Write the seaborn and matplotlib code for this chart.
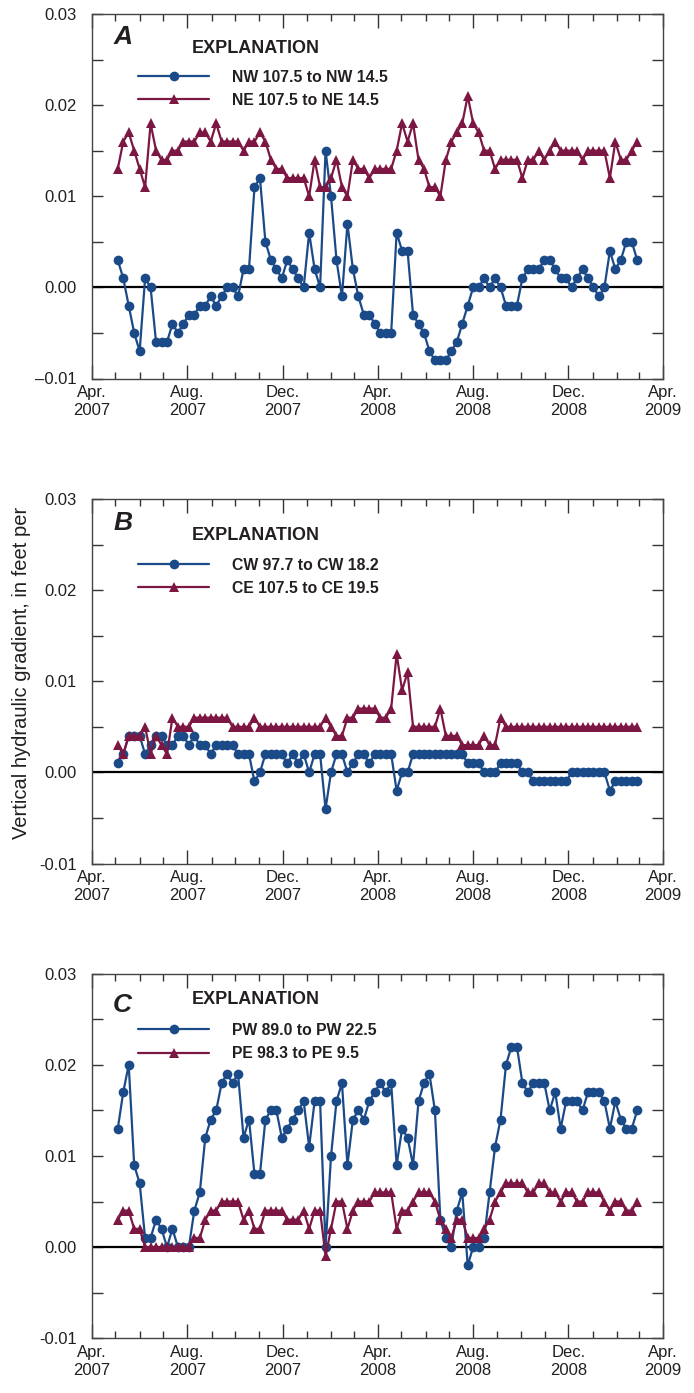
import numpy as np
import pandas as pd
import matplotlib
matplotlib.use("Agg")
import matplotlib.pyplot as plt
import matplotlib.dates as mdates
import seaborn as sns
from datetime import datetime

# Weekly measurement dates
dates = pd.date_range("2007-05-04", periods=96, freq="7D")

# Vertical hydraulic gradients, in thousandths of a foot per foot
nw_107_to_14 = [3, 1, -2, -5, -7, 1, 0, -6, -6, -6, -4, -5, -4, -3, -3, -2, -2, -1, -2, -1,
                0, 0, -1, 2, 2, 11, 12, 5, 3, 2, 1, 3, 2, 1, 0, 6, 2, 0, 15, 10,
                3, -1, 7, 2, -1, -3, -3, -4, -5, -5, -5, 6, 4, 4, -3, -4, -5, -7, -8, -8,
                -8, -7, -6, -4, -2, 0, 0, 1, 0, 1, 0, -2, -2, -2, 1, 2, 2, 2, 3, 3,
                2, 1, 1, 0, 1, 2, 1, 0, -1, 0, 4, 2, 3, 5, 5, 3]
ne_107_to_14 = [13, 16, 17, 15, 13, 11, 18, 15, 14, 14, 15, 15, 16, 16, 16, 17, 17, 16, 18, 16,
                16, 16, 16, 15, 16, 16, 17, 16, 14, 13, 13, 12, 12, 12, 12, 10, 14, 11, 11, 12,
                14, 11, 10, 14, 13, 13, 12, 13, 13, 13, 13, 15, 18, 16, 18, 14, 13, 11, 11, 10,
                14, 16, 17, 18, 21, 18, 17, 15, 15, 13, 14, 14, 14, 14, 12, 14, 14, 15, 14, 15,
                16, 15, 15, 15, 15, 14, 15, 15, 15, 15, 12, 16, 14, 14, 15, 16]
cw_97_to_18 = [1, 2, 4, 4, 4, 2, 3, 4, 4, 3, 3, 4, 4, 3, 4, 3, 3, 2, 3, 3,
               3, 3, 2, 2, 2, -1, 0, 2, 2, 2, 2, 1, 2, 1, 2, 0, 2, 2, -4, 0,
               2, 2, 0, 1, 2, 2, 1, 2, 2, 2, 2, -2, 0, 0, 2, 2, 2, 2, 2, 2,
               2, 2, 2, 2, 1, 1, 1, 0, 0, 0, 1, 1, 1, 1, 0, 0, -1, -1, -1, -1,
               -1, -1, -1, 0, 0, 0, 0, 0, 0, 0, -2, -1, -1, -1, -1, -1]
ce_107_to_19 = [3, 2, 4, 4, 4, 5, 2, 4, 3, 2, 6, 5, 5, 5, 6, 6, 6, 6, 6, 6,
                6, 5, 5, 5, 5, 6, 5, 5, 5, 5, 5, 5, 5, 5, 5, 5, 5, 5, 6, 5,
                4, 4, 6, 6, 7, 7, 7, 7, 6, 6, 7, 13, 9, 11, 5, 5, 5, 5, 5, 7,
                4, 4, 4, 3, 3, 3, 3, 4, 3, 3, 6, 5, 5, 5, 5, 5, 5, 5, 5, 5,
                5, 5, 5, 5, 5, 5, 5, 5, 5, 5, 5, 5, 5, 5, 5, 5]
pw_89_to_22 = [13, 17, 20, 9, 7, 1, 1, 3, 2, 0, 2, 0, 0, 0, 4, 6, 12, 14, 15, 18,
               19, 18, 19, 12, 14, 8, 8, 14, 15, 15, 12, 13, 14, 15, 16, 11, 16, 16, 0, 10,
               16, 18, 9, 14, 15, 14, 16, 17, 18, 17, 18, 9, 13, 12, 9, 16, 18, 19, 15, 3,
               1, 0, 4, 6, -2, 0, 0, 1, 6, 11, 14, 20, 22, 22, 18, 17, 18, 18, 18, 15,
               17, 13, 16, 16, 16, 15, 17, 17, 17, 16, 13, 16, 14, 13, 13, 15]
pe_98_to_9 = [3, 4, 4, 2, 2, 0, 0, 0, 0, 0, 0, 0, 0, 0, 1, 1, 3, 4, 4, 5,
              5, 5, 5, 3, 4, 2, 2, 4, 4, 4, 4, 3, 3, 3, 4, 2, 4, 4, -1, 2,
              5, 5, 2, 4, 5, 5, 5, 6, 6, 6, 6, 2, 4, 4, 5, 6, 6, 6, 5, 3,
              2, 1, 3, 3, 1, 1, 1, 2, 3, 5, 6, 7, 7, 7, 7, 6, 6, 7, 7, 6,
              6, 5, 6, 6, 5, 5, 6, 6, 6, 5, 4, 5, 5, 4, 4, 5]

y_ticks = [-0.01, -0.005, 0.0, 0.005, 0.01, 0.015, 0.02, 0.025, 0.03]
y_labels_a = ["\u20130.01", "", "0.00", "", "0.01", "", "0.02", "", "0.03"]
y_labels_bc = ["-0.01", "", "0.00", "", "0.01", "", "0.02", "", "0.03"]
y_axis_title = "Vertical hydraulic gradient, in feet per"

sns.set_theme(style="ticks")
plt.rcParams["font.family"] = ["Liberation Sans", "DejaVu Sans"]

BLUE = "#1b4a88"
MAROON = "#7c1642"
TEXT = "#231f20"

W, H = 694, 1393
fig = plt.figure(figsize=(W / 100, H / 100), dpi=100)

panels = [
    dict(letter="A", top=14.0, ylabels=y_labels_a,
         series=[("NW 107.5 to NW 14.5", nw_107_to_14, BLUE, "o"),
                 ("NE 107.5 to NE 14.5", ne_107_to_14, MAROON, "^")],
         letter_dy=23.3, expl_dy=34.3, row1_dy=62.0),
    dict(letter="B", top=499.0, ylabels=y_labels_bc,
         series=[("CW 97.7 to CW 18.2", cw_97_to_18, BLUE, "o"),
                 ("CE 107.5 to CE 19.5", ce_107_to_19, MAROON, "^")],
         letter_dy=24.3, expl_dy=36.0, row1_dy=65.0),
    dict(letter="C", top=973.7, ylabels=y_labels_bc,
         series=[("PW 89.0 to PW 22.5", pw_89_to_22, BLUE, "o"),
                 ("PE 98.3 to PE 9.5", pe_98_to_9, MAROON, "^")],
         letter_dy=31.3, expl_dy=26.3, row1_dy=55.6),
]

left_px, right_px, height_px = 92.0, 663.0, 364.5

for p in panels:
    ax = fig.add_axes([left_px / W, 1 - (p["top"] + height_px) / H,
                       (right_px - left_px) / W, height_px / H])
    ax.axhline(0, color="black", lw=1.6, zorder=1)
    for label, vals, color, marker in p["series"]:
        sns.lineplot(x=dates, y=np.asarray(vals) / 1000.0, ax=ax, color=color,
                     marker=marker, markersize=7.0 if marker == "o" else 7.4,
                     markeredgewidth=0, linewidth=1.6, label=label, zorder=3)

    ax.set_xlim(datetime(2007, 4, 1), datetime(2009, 4, 1))
    ax.set_ylim(-0.01, 0.03)
    ax.xaxis.set_major_locator(mdates.MonthLocator(bymonth=[4, 8, 12]))
    ax.xaxis.set_minor_locator(mdates.MonthLocator())
    ax.xaxis.set_major_formatter(mdates.DateFormatter("%b.\n%Y"))
    ax.set_yticks(y_ticks)
    ax.set_yticklabels(p["ylabels"])
    ax.set_xlabel("")
    ax.set_ylabel("")

    ax.tick_params(axis="x", which="major", direction="in", top=True, bottom=True,
                   length=10, width=1, labelsize=12, pad=5, colors="#333333",
                   labelcolor=TEXT)
    ax.tick_params(axis="x", which="minor", direction="in", top=True, bottom=True,
                   length=5, width=1, colors="#333333")
    ax.tick_params(axis="y", which="major", direction="in", left=True, right=True,
                   length=8, width=1, labelsize=12, pad=11, colors="#333333",
                   labelcolor=TEXT)
    for s in ax.spines.values():
        s.set_linewidth(1.0)
        s.set_color("#444444")

    def ay(dy):
        return 1 - dy / height_px

    ax.text(0.037, ay(p["letter_dy"]), p["letter"], transform=ax.transAxes,
            fontsize=19, fontweight="bold", fontstyle="italic", color=TEXT,
            ha="left", va="center")
    ax.text(0.175, ay(p["expl_dy"]), "EXPLANATION", transform=ax.transAxes,
            fontsize=13, fontweight="bold", color=TEXT, ha="left", va="center")
    leg = ax.legend(loc="upper left", bbox_to_anchor=(0.081, ay(p["row1_dy"] - 6.5)),
                    frameon=False, borderpad=0, borderaxespad=0, handlelength=4.5,
                    handletextpad=1.45, labelspacing=0.54, numpoints=1,
                    prop={"weight": "bold", "size": 11.3})
    for t in leg.get_texts():
        t.set_color(TEXT)

fig.text(22 / W, 1 - 673 / H, y_axis_title, rotation=90, ha="center", va="center",
         fontsize=14.5, color=TEXT)

fig.savefig("out.png", dpi=100)
